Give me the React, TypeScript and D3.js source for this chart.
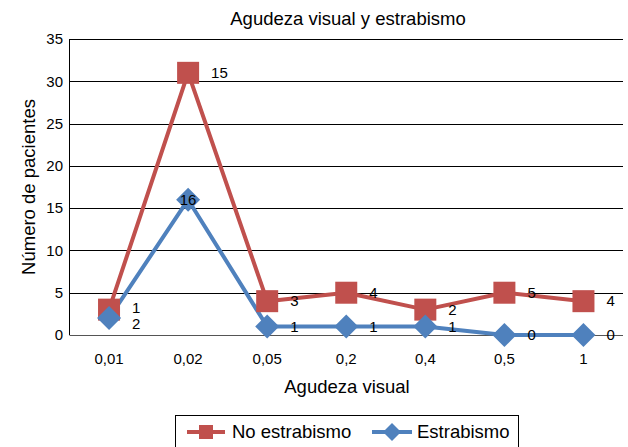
import React from "react";
import * as d3 from "d3";

const categories = ["0,01", "0,02", "0,05", "0,2", "0,4", "0,5", "1"];
const estrabismo = [2, 16, 1, 1, 1, 0, 0];
const noEstrabismo = [1, 15, 3, 4, 2, 5, 4];
const yTicks = [0, 5, 10, 15, 20, 25, 30, 35];

const RED = "#C0504D";
const BLUE = "#4F81BD";
const FONT = "'Liberation Sans', Arial, Helvetica, sans-serif";

const W = 628;
const H = 447;
const left = 69.5;
const right = 623;
const top = 39;
const bottom = 335;

export default function App() {
  const x = d3.scaleBand<string>().domain(categories).range([left, right]);
  const cx = (c: string) => (x(c) as number) + x.bandwidth() / 2;
  const y = d3.scaleLinear().domain([0, 35]).range([bottom, top]);

  // stacked line chart
  const blueVals = estrabismo;
  const redVals = noEstrabismo.map((v, i) => v + estrabismo[i]);

  const line = d3
    .line<number>()
    .x((_, i) => cx(categories[i]))
    .y((d) => y(d));

  // label positions: right of the point, pushed apart on collision
  const labels: { x: number; y: number; t: string; anchor: string }[] = [];
  categories.forEach((c, i) => {
    let ry = y(redVals[i]);
    let by = y(blueVals[i]);
    if (Math.abs(ry - by) < 16) {
      const mid = (ry + by) / 2 + 2;
      ry = mid - 8;
      by = mid + 8;
    }
    labels.push({ x: cx(c) + 23, y: ry, t: String(noEstrabismo[i]), anchor: "start" });
    if (i === 1) {
      labels.push({ x: cx(c), y: y(blueVals[i]), t: String(estrabismo[i]), anchor: "middle" });
    } else {
      labels.push({ x: cx(c) + 23, y: by, t: String(estrabismo[i]), anchor: "start" });
    }
  });

  const sq = 11;
  const dm = 12;

  return (
    <svg width={W} height={H} style={{ position: "absolute", left: 0, top: 0 }} fontFamily={FONT}>
      <rect width={W} height={H} fill="#fff" />
      <text x={348} y={25} textAnchor="middle" fontSize={18.5}>
        Agudeza visual y estrabismo
      </text>
      {yTicks.map((t) => (
        <g key={t}>
          <line x1={left} x2={right} y1={Math.round(y(t)) + 0.5} y2={Math.round(y(t)) + 0.5} stroke={t === 0 ? "#555" : "#000"} strokeWidth={1} />
          <text x={63} y={y(t)} dy="0.35em" textAnchor="end" fontSize={15}>
            {t}
          </text>
        </g>
      ))}
      <line x1={left} x2={left} y1={top} y2={bottom} stroke="#000" strokeWidth={1} />
      {categories.map((c) => (
        <text key={c} x={cx(c)} y={364} textAnchor="middle" fontSize={15}>
          {c}
        </text>
      ))}
      <text x={347} y={393} textAnchor="middle" fontSize={18.5}>
        Agudeza visual
      </text>
      <text transform={`translate(35,187) rotate(-90)`} textAnchor="middle" fontSize={18.5}>
        Número de pacientes
      </text>

      <path d={line(redVals) || ""} fill="none" stroke={RED} strokeWidth={4} strokeLinejoin="round" />
      <path d={line(blueVals) || ""} fill="none" stroke={BLUE} strokeWidth={4} strokeLinejoin="round" />
      {redVals.map((v, i) => (
        <rect key={"r" + i} x={cx(categories[i]) - sq} y={y(v) - sq} width={sq * 2} height={sq * 2} fill={RED} />
      ))}
      {blueVals.map((v, i) => {
        const px = cx(categories[i]);
        const py = y(v);
        return (
          <path key={"b" + i} d={`M${px},${py - dm}L${px + dm},${py}L${px},${py + dm}L${px - dm},${py}Z`} fill={BLUE} />
        );
      })}
      {labels.map((l, i) => (
        <text key={"l" + i} x={l.x} y={l.y} dy="0.35em" textAnchor={l.anchor} fontSize={15}>
          {l.t}
        </text>
      ))}

      <rect x={175.5} y={415.5} width={343} height={40} fill="#fff" stroke="#000" strokeWidth={1} />
      <line x1={187} x2={225} y1={432} y2={432} stroke={RED} strokeWidth={4} />
      <rect x={199} y={425} width={14} height={14} fill={RED} />
      <text x={232} y={432} dy="0.35em" fontSize={18.5}>
        No estrabismo
      </text>
      <line x1={372} x2={412} y1={432} y2={432} stroke={BLUE} strokeWidth={4} />
      <path d={`M392,423L401,432L392,441L383,432Z`} fill={BLUE} />
      <text x={417} y={432} dy="0.35em" fontSize={18.5}>
        Estrabismo
      </text>
    </svg>
  );
}
